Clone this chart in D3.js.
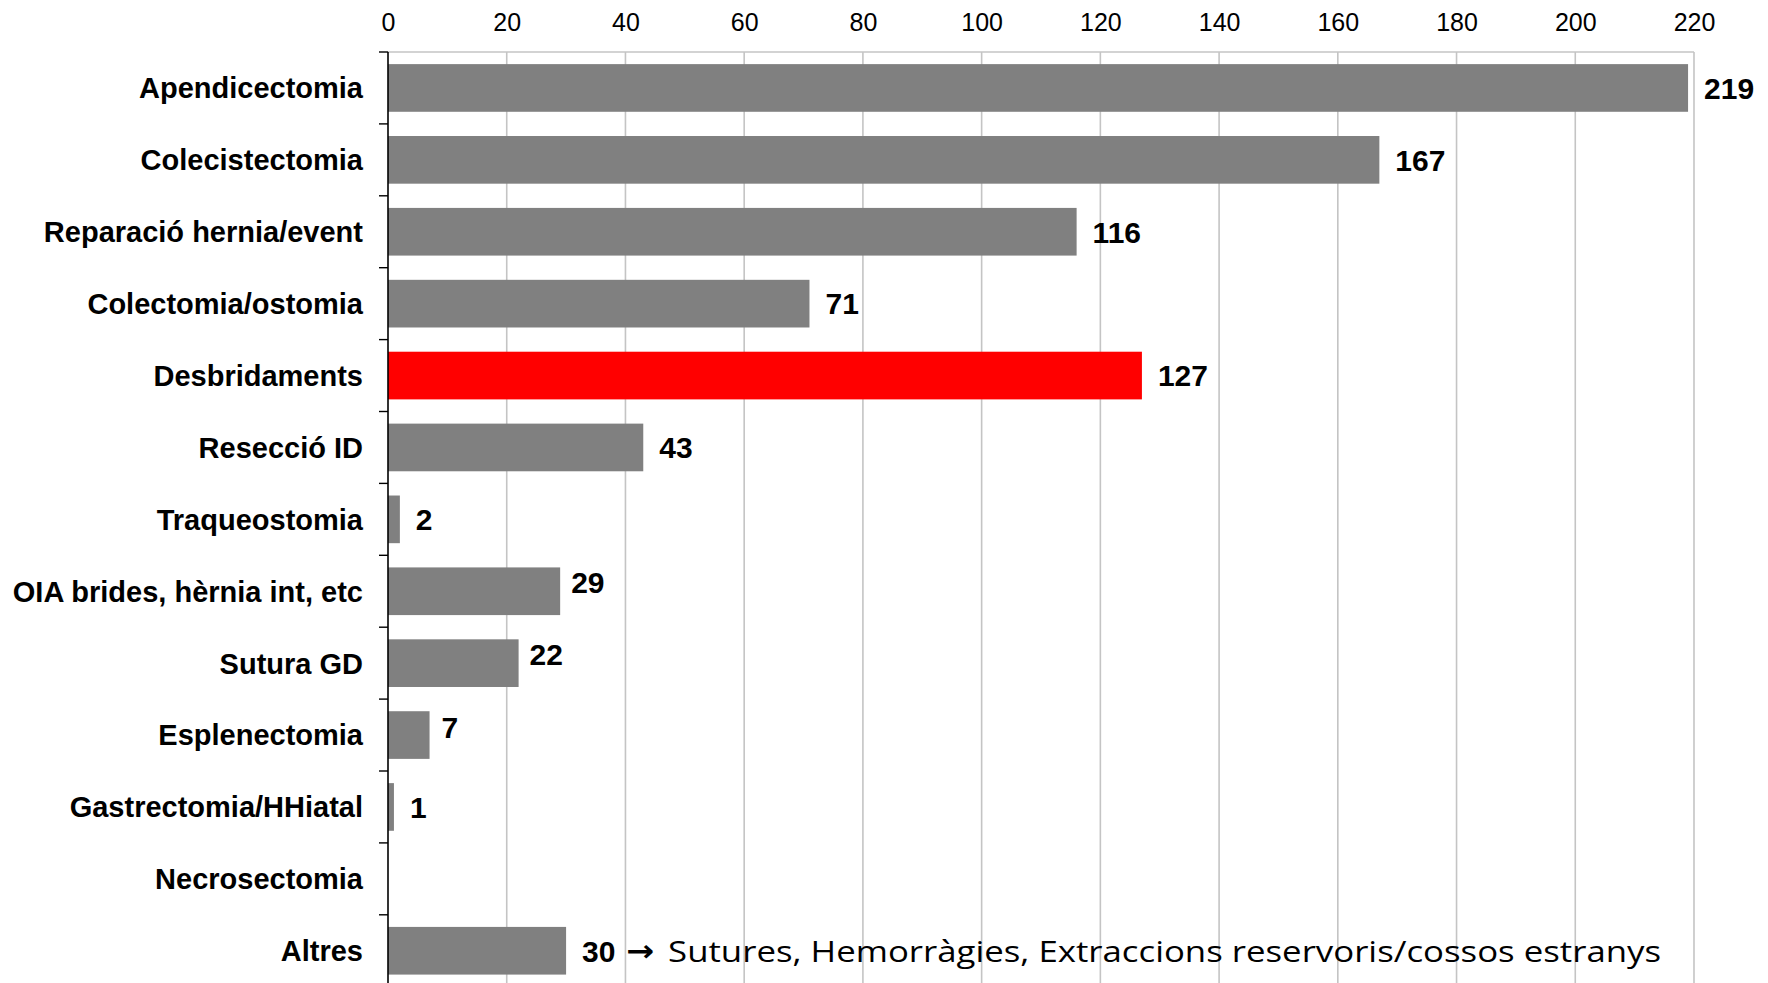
<!DOCTYPE html>
<html>
<head>
<meta charset="utf-8">
<script src="https://cdn.jsdelivr.net/npm/d3@7"></script>
<style>
  html, body { margin: 0; padding: 0; background: #fff; }
  svg { display: block; }
</style>
</head>
<body>
<svg id="chart" width="1768" height="983"></svg>
<script>
// Procedures and their counts
const categories = [
  "Apendicectomia",
  "Colecistectomia",
  "Reparació hernia/event",
  "Colectomia/ostomia",
  "Desbridaments",
  "Resecció ID",
  "Traqueostomia",
  "OIA brides, hèrnia int, etc",
  "Sutura GD",
  "Esplenectomia",
  "Gastrectomia/HHiatal",
  "Necrosectomia",
  "Altres"
];
const values = [219, 167, 116, 71, 127, 43, 2, 29, 22, 7, 1, 0, 30];
const highlighted = ["Desbridaments"];
const xTicks = [0, 20, 40, 60, 80, 100, 120, 140, 160, 180, 200, 220];
const otherArrow = "\u2192";
const otherNote = "Sutures, Hemorràgies, Extraccions reservoris/cossos estranys";

const data = categories.map((c, i) => ({ cat: c, val: values[i] }));

const svg = d3.select("#chart");
const plot = { left: 388, right: 1694, top: 52, step: 71.9 };
const plotBottom = plot.top + plot.step * categories.length;

const x = d3.scaleLinear().domain([0, 220]).range([plot.left, plot.right]);
const pad = 0.337;
const y = d3.scaleBand()
  .domain(categories)
  .range([plot.top, plotBottom])
  .paddingInner(pad)
  .paddingOuter(pad / 2);

const labelFont = "'Liberation Sans', Arial, Helvetica, sans-serif";

// Vertical gridlines
svg.append("g")
  .selectAll("line")
  .data(xTicks.filter(d => d > 0))
  .join("line")
  .attr("x1", d => x(d)).attr("x2", d => x(d))
  .attr("y1", plot.top).attr("y2", plotBottom)
  .attr("stroke", "#c4c4c4")
  .attr("stroke-width", 1.6);

// Top border of the plot area
svg.append("line")
  .attr("x1", x(0)).attr("x2", x(220))
  .attr("y1", plot.top).attr("y2", plot.top)
  .attr("stroke", "#c4c4c4")
  .attr("stroke-width", 1.6);

// Top value axis
const xAxis = d3.axisTop(x).tickValues(xTicks).tickSize(0).tickPadding(0);
const gx = svg.append("g")
  .attr("transform", "translate(0,31)")
  .call(xAxis);
gx.select(".domain").remove();
gx.selectAll("text")
  .attr("dy", 0)
  .attr("fill", "#000")
  .style("font-family", labelFont)
  .style("font-size", "25px");

// Bars
svg.append("g")
  .selectAll("rect")
  .data(data.filter(d => d.val > 0))
  .join("rect")
  .attr("x", x(0))
  .attr("y", d => y(d.cat))
  .attr("width", d => x(d.val) - x(0))
  .attr("height", y.bandwidth())
  .attr("fill", d => highlighted.includes(d.cat) ? "#ff0000" : "#808080");

// Category axis line and band-boundary ticks
const bounds = d3.range(categories.length + 1).map(i => plot.top + i * y.step());
svg.append("line")
  .attr("x1", x(0)).attr("x2", x(0))
  .attr("y1", plot.top).attr("y2", plotBottom)
  .attr("stroke", "#000")
  .attr("stroke-width", 1.6);
svg.append("g")
  .selectAll("line")
  .data(bounds)
  .join("line")
  .attr("x1", x(0) - 9).attr("x2", x(0))
  .attr("y1", d => d).attr("y2", d => d)
  .attr("stroke", "#000")
  .attr("stroke-width", 1.4);

// Category labels
svg.append("g")
  .selectAll("text")
  .data(data)
  .join("text")
  .attr("x", x(0) - 25)
  .attr("y", d => y(d.cat) + y.bandwidth() / 2)
  .attr("dy", "0.36em")
  .attr("text-anchor", "end")
  .style("font-family", labelFont)
  .style("font-weight", "bold")
  .style("font-size", "29px")
  .text(d => d.cat);

// Value labels; a few small bars carry their label nudged up and in
const nudged = { "OIA brides, hèrnia int, etc": [-5, -9], "Sutura GD": [-5, -9], "Esplenectomia": [-4, -8] };
svg.append("g")
  .selectAll("text")
  .data(data.filter(d => d.val > 0))
  .join("text")
  .attr("x", d => x(d.val) + 16 + (nudged[d.cat] ? nudged[d.cat][0] : 0))
  .attr("y", d => y(d.cat) + y.bandwidth() / 2 + (nudged[d.cat] ? nudged[d.cat][1] : 0))
  .attr("dy", "0.36em")
  .style("font-family", labelFont)
  .style("font-weight", "bold")
  .style("font-size", "30px")
  .text(d => d.val);

// Note next to the "Altres" bar: an arrow, then the list of what it groups
const other = data[data.length - 1];
const noteY = y(other.cat) + y.bandwidth() / 2;
svg.append("text")
  .attr("x", x(other.val) + 60)
  .attr("y", noteY)
  .attr("dy", "0.34em")
  .attr("textLength", 28)
  .attr("lengthAdjust", "spacingAndGlyphs")
  .style("font-family", "'DejaVu Sans', sans-serif")
  .style("font-weight", "bold")
  .style("font-size", "30px")
  .text(otherArrow);
svg.append("text")
  .attr("x", x(other.val) + 102)
  .attr("y", noteY)
  .attr("dy", "0.36em")
  .attr("textLength", 993)
  .attr("lengthAdjust", "spacingAndGlyphs")
  .style("font-family", "'Open Sans', 'Noto Sans', sans-serif")
  .style("font-size", "30px")
  .text(otherNote);
</script>
</body>
</html>
